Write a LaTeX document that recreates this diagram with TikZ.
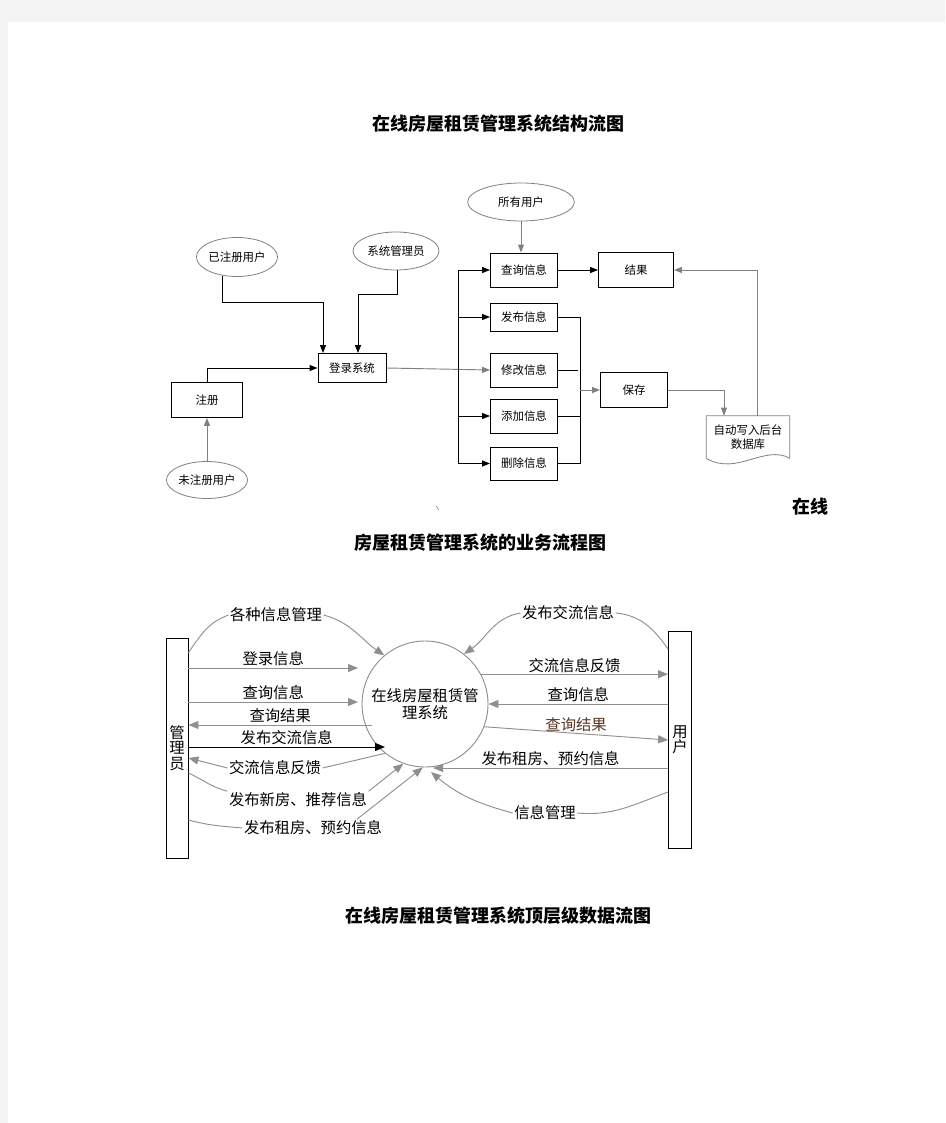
\documentclass[tikz,border=0pt]{standalone}
\usepackage{fontspec}
\setmainfont{Noto Sans CJK SC}
\usepackage{xcolor}
\usepackage{tikz}
\usetikzlibrary{shapes,arrows,positioning,calc,arrows.meta}
\definecolor{pagegray}{HTML}{F3F3F3}
\definecolor{lgray}{HTML}{8F8F8F}
\definecolor{qcolor}{HTML}{5A3420}

\begin{document}
\begin{tikzpicture}[x=0.75pt,y=-0.75pt,
    >={Triangle[length=6pt,width=4.5pt]},
    box/.style={draw, rectangle, line width=0.7pt, inner sep=0pt, font=\fontsize{8.6}{10}\selectfont},
    role/.style={draw=gray, ellipse, line width=0.6pt, inner sep=0pt, font=\fontsize{8.6}{10}\selectfont},
    flow/.style={line width=0.7pt},
    dfd/.style={draw=lgray, line width=0.7pt, >={Triangle[length=7.5pt,width=6pt]}},
    lbl/.style={font=\fontsize{11.5}{12}\selectfont, fill=white, inner sep=1pt},
    tag/.style={font=\fontsize{11.5}{12}\selectfont, inner sep=1pt, above},
    pole/.style={draw, line width=0.7pt, inner sep=0pt, align=center, font=\fontsize{11.5}{11.5}\selectfont},
    title/.style={font=\fontsize{13.5}{15}\selectfont\bfseries}]
    \useasboundingbox (0,0) rectangle (945,1123);
    % page edge
    \fill [pagegray] (0,0) rectangle (945,22);
    \fill [pagegray] (0,0) rectangle (8,1123);

    % Structure chart
    \node [title] (t1) at (498,124) {在线房屋租赁管理系统结构流图};
    \node [role, minimum width=57.75pt, minimum height=29.25pt] (yzc) at (237,257) {已注册用户};
    \node [role, minimum width=64.5pt, minimum height=28.5pt] (xtg) at (396,251) {系统管理员};
    \node [role, minimum width=55.5pt, minimum height=27.75pt] (wzc) at (207,480) {未注册用户};
    \node [role, minimum width=80pt, minimum height=28.5pt] (sy) at (521,202) {所有用户};
    \node [box, minimum width=51pt, minimum height=21.75pt] (dl) at (352,368) {登录系统};
    \node [box, minimum width=53.25pt, minimum height=26.25pt] (zc) at (207,400) {注册};
    \node [box, minimum width=50.25pt, minimum height=25.5pt] (cx) at (524,270) {查询信息};
    \node [box, minimum width=50.25pt, minimum height=21pt] (fb) at (524,317) {发布信息};
    \node [box, minimum width=50.25pt, minimum height=25.5pt] (xg) at (524,370) {修改信息};
    \node [box, minimum width=50.25pt, minimum height=25.5pt] (tj) at (524,416) {添加信息};
    \node [box, minimum width=50.25pt, minimum height=24.75pt] (sc) at (524,463.5) {删除信息};
    \node [box, minimum width=56.25pt, minimum height=26.25pt] (jg) at (636,270) {结果};
    \node [box, minimum width=50.25pt, minimum height=26.25pt] (bc) at (634,390) {保存};
    \node [align=center, inner sep=0pt, minimum width=62.25pt, minimum height=31.5pt,
        font=\fontsize{8.6}{10}\selectfont] (db) at (748,437) {自动写入后台\\数据库};
    \draw [line width=0.6pt, draw=gray] (db.south west) -- (db.north west) -- (db.north east) -- (db.south east)
        .. controls ($(db.south east)+(-25,-14)$) and ($(db.south west)+(30,18)$) .. (db.south west);

    \coordinate (b1) at (323,302);
    \coordinate (b2) at (358,294);
    \draw [->, flow] (yzc.-127) |- (b1) -- (b1 |- dl.north);
    \draw [->, flow] (xtg.-85) |- (b2) -- (b2 |- dl.north);
    \draw [->, flow] (zc.north) |- (dl.west);
    \draw [->, flow, gray] (wzc.north) -- (zc.south);
    \draw [->, flow, gray] (dl.east) -- (xg.west);
    % left bus
    \coordinate (lb) at (458,270);
    \draw [flow] (cx.west -| lb) -- (sc.west -| lb);
    \draw [->, flow] (cx.west -| lb) -- (cx.west);
    \draw [->, flow] (fb.west -| lb) -- (fb.west);
    \draw [->, flow] (tj.west -| lb) -- (tj.west);
    \draw [->, flow] (sc.west -| lb) -- (sc.west);
    % right bus
    \coordinate (rb) at (580,317);
    \draw [flow] (fb.east) -- (fb.east -| rb) -- (sc.east -| rb) -- (sc.east);
    \draw [flow] (tj.east) -- (tj.east -| rb);
    \draw [flow] (xg.east) -- ++(20,0);
    \draw [->, flow, gray] (bc.west -| rb) -- (bc.west);
    \draw [->, flow] (cx.east) -- (jg.west);
    \draw [->, flow, gray] (bc.east) -| ([xshift=-18pt]db.north);
    \draw [->, flow, gray] ([xshift=6.75pt]db.north) |- (jg.east);
    \draw [->, flow, gray] (sy.south) -- (sy.south |- cx.north);

    % Titles
    \node [title] (t2a) at (810,507) {在线};
    \node [title] (t2b) at (480,543) {房屋租赁管理系统的业务流程图};
    \draw [gray] (436,506) -- (439,510);
    \node [title] (t3) at (498,916) {在线房屋租赁管理系统顶层级数据流图};

    % Data flow chart
    \node [pole, minimum width=16.5pt, minimum height=165pt] (gly) at (177,748) {管\\理\\员};
    \node [pole, minimum width=17.25pt, minimum height=162.75pt] (yh) at (680,740) {用\\户};
    \node [circle, draw=lgray, line width=0.7pt, minimum size=94.5pt, inner sep=0pt, align=center,
        font=\fontsize{11.5}{12.5}\selectfont] (xt) at (425,704) {在线房屋租赁管\\理系统};

    % admin side
    \node [lbl] (l1) at (276,615) {各种信息管理};
    \draw [dfd] ($(gly.north east)+(0,15)$) to[out=55,in=200] (l1.west);
    \draw [dfd, ->] (l1.east) to[out=-15,in=145] (xt.130);
    \coordinate (p2) at (358,668);
    \draw [dfd, ->] (gly.east |- p2) -- (p2) node[tag, midway] {登录信息};
    \coordinate (p3) at (358,702);
    \draw [dfd, ->] (gly.east |- p3) -- (p3) node[tag, midway] {查询信息};
    \coordinate (p4) at (372,725);
    \draw [dfd, <-] (gly.east |- p4) -- (p4) node[tag, midway] {查询结果};
    \coordinate (p5) at (385,747);
    \draw [dfd, draw=black, ->] (gly.east |- p5) -- (p5) node[tag, midway] {发布交流信息};
    \node [lbl] (l6) at (275,768) {交流信息反馈};
    \draw [dfd] (xt.231) -- (l6.east);
    \draw [dfd, ->] (l6.west) -- ($(gly.east)+(0,10)$);
    \node [lbl] (l7) at (298,800) {发布新房、推荐信息};
    \draw [dfd] ($(gly.east)+(0,25)$) to[out=-25,in=165] (l7.north west);
    \draw [dfd, ->] (l7.north east) -- (xt.250);
    \node [lbl] (l8) at (313,828) {发布租房、预约信息};
    \draw [dfd] ($(gly.east)+(0,72)$) to[out=-15,in=175] (l8.west);
    \draw [dfd, ->] ([xshift=-20pt]l8.north east) -- (xt.268);

    % user side
    \node [lbl] (r1) at (568,613) {发布交流信息};
    \draw [dfd] ($(yh.north west)+(0,18)$) to[out=125,in=-5] (r1.east);
    \draw [dfd, ->] (r1.west) to[out=190,in=35] (xt.52);
    \draw [dfd, ->] (xt.28) -- (xt.28 -| yh.west) node[tag, midway] {交流信息反馈};
    \draw [dfd, ->] (yh.west |- xt.east) -- (xt.east) node[tag, midway] {查询信息};
    \draw [dfd, ->] (xt.-21) -- (yh.west) node[tag, midway, text=qcolor] {查询结果};
    \coordinate (q5) at (433,768);
    \draw [dfd, ->] (yh.west |- q5) -- (q5) node[tag, midway] {发布租房、预约信息};
    \node [lbl] (r6) at (545,813) {信息管理};
    \coordinate (q6) at (431,772);
    \draw [dfd] ($(yh.south west)+(0,-57)$) to[out=200,in=-5] (r6.east);
    \draw [dfd, ->] (r6.west) to[out=165,in=-40] (q6);
\end{tikzpicture}
\end{document}
